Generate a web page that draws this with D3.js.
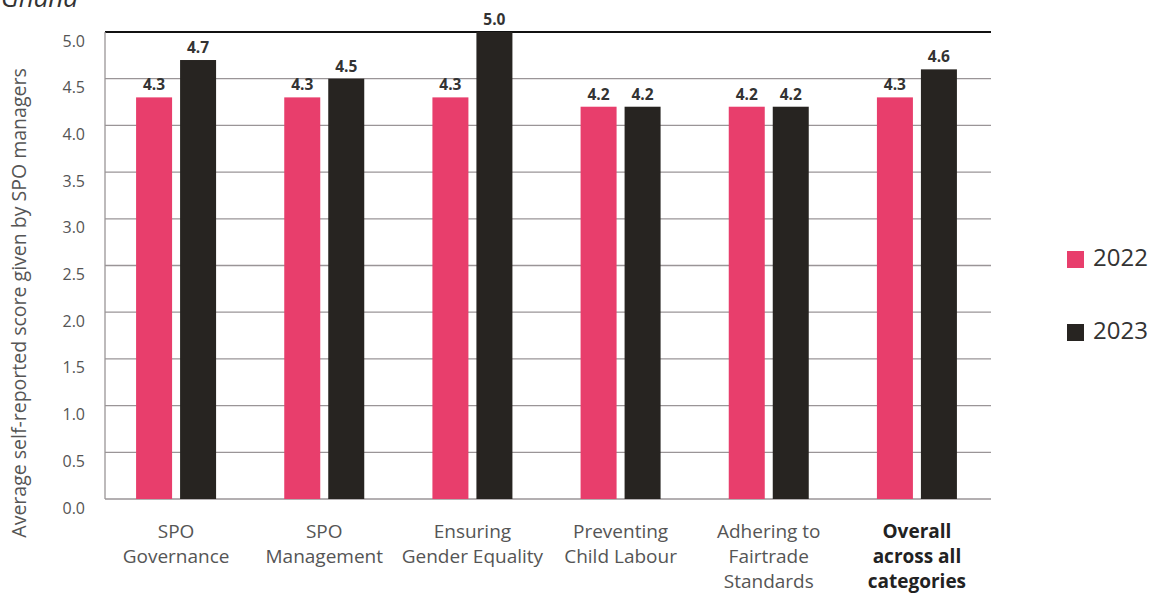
<!DOCTYPE html>
<html><head><meta charset="utf-8">
<script src="https://cdn.jsdelivr.net/npm/d3@7"></script>
<style>body{margin:0;background:#fff;}svg{display:block;font-family:"Open Sans",sans-serif;}</style>
</head><body><svg id="c" width="1151" height="593"></svg>
<script>
const categories = [["SPO","Governance"],["SPO","Management"],["Ensuring","Gender Equality"],["Preventing","Child Labour"],["Adhering to","Fairtrade","Standards"],["Overall","across all","categories"]];
const series = ["2022","2023"];
const values2022 = [4.3,4.3,4.3,4.2,4.2,4.3];
const values2023 = [4.7,4.5,5.0,4.2,4.2,4.6];
const yTicks = [0,0.5,1,1.5,2,2.5,3,3.5,4,4.5,5];
const colors = ["#E83E6C","#272421"];

const svg = d3.select("#c");
const m = {l:105, r:991, t:32, b:499};
const x = d3.scaleBand().domain(d3.range(categories.length)).range([m.l, m.l+889]);
const y = d3.scaleLinear().domain([0,5]).range([m.b, m.t]);
const barW = 36, gap = 8;

// title fragment cut off at top
svg.append("text").attr("x",1).attr("y",7).attr("font-size",26).attr("font-style","italic").attr("fill","#333").text("Ghana");

// gridlines
svg.append("g").selectAll("line").data(yTicks).join("line")
  .attr("x1",m.l).attr("x2",m.r).attr("y1",d=>y(d)).attr("y2",d=>y(d))
  .attr("stroke",d=>d===5?"#111":"#9a9597").attr("stroke-width",d=>d===5?2:1.3);
svg.append("line").attr("x1",m.l).attr("x2",m.l).attr("y1",m.t).attr("y2",m.b).attr("stroke","#9a9597").attr("stroke-width",1.3);

// y tick labels
const yAxis = d3.axisLeft(y).tickValues(yTicks).tickFormat(d3.format(".1f")).tickSize(0).tickPadding(20);
const ga = svg.append("g").attr("transform",`translate(${m.l},0)`).call(yAxis);
ga.select(".domain").remove();
ga.selectAll("text").attr("font-size",16).attr("fill","#555").attr("font-family","'Open Sans',sans-serif").attr("dy","0.88em");

// y title
svg.append("text").attr("transform",`translate(26,303) rotate(-90)`).attr("text-anchor","middle")
  .attr("font-size",19.5).attr("fill","#555").text("Average self-reported score given by SPO managers");

// bars
const data = [values2022, values2023];
data.forEach((vals,si)=>{
  const g = svg.append("g");
  const cx = (i)=>x(i)+x.bandwidth()/2 - 3;
  g.selectAll("rect").data(vals).join("rect")
    .attr("x",(d,i)=>cx(i) + (si===0 ? -gap/2-barW : gap/2))
    .attr("width",barW).attr("y",d=>y(d)).attr("height",d=>y(0)-y(d)).attr("fill",colors[si]);
  g.selectAll("text").data(vals).join("text")
    .attr("x",(d,i)=>cx(i) + (si===0 ? -gap/2-barW/2 : gap/2+barW/2))
    .attr("y",d=>y(d)-7).attr("text-anchor","middle").attr("font-size",15.5).attr("font-weight",700).attr("fill","#333")
    .text(d=>d.toFixed(1));
});

// category labels
categories.forEach((lines,i)=>{
  const t = svg.append("text").attr("text-anchor","middle").attr("font-size",19)
    .attr("font-weight",i===5?700:400).attr("fill",i===5?"#222":"#555");
  lines.forEach((s,j)=>t.append("tspan").attr("x",x(i)+x.bandwidth()/2-3).attr("y",538+j*25).text(s));
});

// legend
series.forEach((s,i)=>{
  const yy = 251 + i*73;
  svg.append("rect").attr("x",1067).attr("y",yy).attr("width",17).attr("height",17).attr("fill",colors[i]);
  svg.append("text").attr("x",1093).attr("y",yy+15).attr("font-size",24).attr("fill","#333").text(s);
});
</script></body></html>
